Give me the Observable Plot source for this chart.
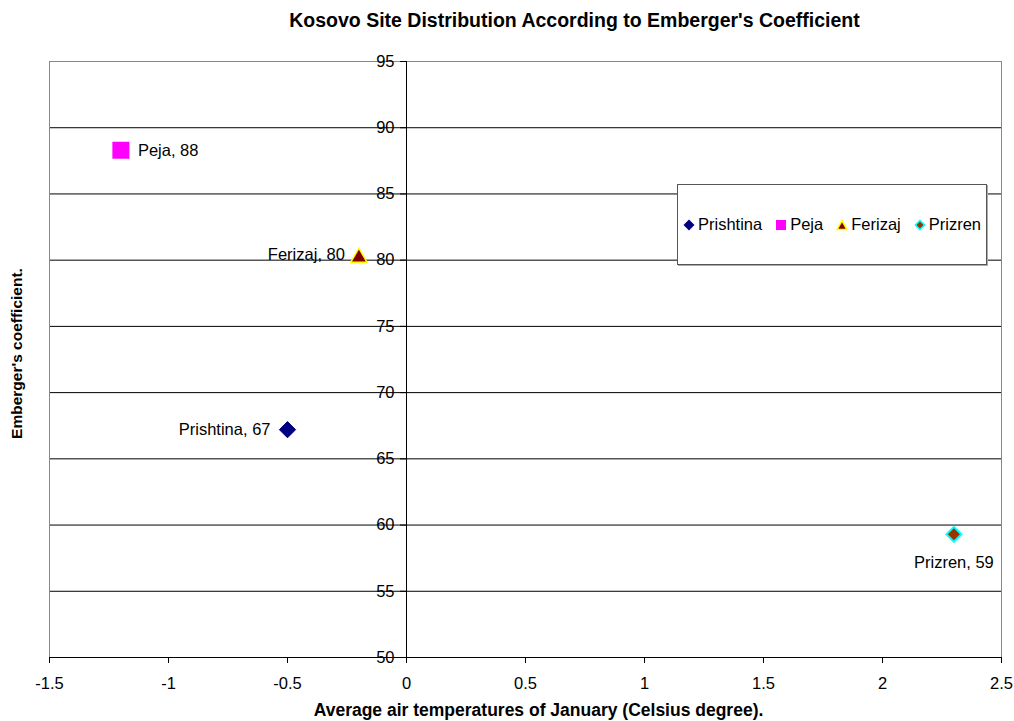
<!DOCTYPE html>
<html>
<head>
<meta charset="utf-8">
<script src="https://cdn.jsdelivr.net/npm/d3@7"></script>
<script src="https://cdn.jsdelivr.net/npm/@observablehq/plot@0.6"></script>
<style>
  body { margin: 0; background: #fff; }
  #chart { position: relative; width: 1014px; height: 721px; font-family: "Liberation Sans", Arial, sans-serif; }
  #legend {
    position: absolute; left: 677px; top: 184px; width: 310px; height: 81px;
    box-sizing: border-box; background: #fff; border: 1.5px solid #555;
    box-shadow: 1px 1px 0 #aaa;
    display: flex; align-items: center; justify-content: center;
    font-size: 16.5px; color: #000; gap: 13px;
  }
  #legend .item { display: flex; align-items: center; gap: 3px; }
  #legend svg { display: block; }
</style>
</head>
<body>
<div id="chart"></div>
<script>
// Sites and their January temperature / Emberger coefficient
const sites = ["Prishtina", "Peja", "Ferizaj", "Prizren"];
const janTemp = [-0.5, -1.2, -0.2, 2.3];
const emberger = [67.2, 88.3, 80.2, 59.3];

const xTicks = [-1.5, -1, -0.5, 0, 0.5, 1, 1.5, 2, 2.5];
const yTicks = [50, 55, 60, 65, 70, 75, 80, 85, 90, 95];

const data = sites.map((site, i) => ({site, x: janTemp[i], y: emberger[i]}));

// Marker look for each site
const markerStyle = {
  Prishtina: {symbol: "diamond2", fill: "#000080", stroke: "#000080", strokeWidth: 1, r: 7.3},
  Peja:      {symbol: "square",   fill: "#ff00ff", stroke: "#ff00ff", strokeWidth: 0.5, r: 9.3},
  Ferizaj:   {symbol: "triangle", fill: "#800000", stroke: "#ffff00", strokeWidth: 1.5, r: 6},
  Prizren:   {symbol: "diamond2", fill: "#993300", stroke: "#00ffff", strokeWidth: 2, r: 6.7}
};
// Where each point's label sits relative to its marker
const labelPlace = {
  Prishtina: {textAnchor: "end", dx: -17, dy: 0},
  Peja:      {textAnchor: "start", dx: 17, dy: 0},
  Ferizaj:   {textAnchor: "end", dx: -14, dy: -3},
  Prizren:   {textAnchor: "middle", dx: 0, dy: 28}
};

const W = 1014, H = 721;
const mL = 49, mR = 13, mT = 61, mB = 64;
const FS = 16.5;
// tick length of 6px expressed in x units
const xTickLen = 6 * (2.5 - (-1.5)) / (W - mL - mR);

const marks = [
  Plot.ruleY(yTicks.filter(d => d !== 50 && d !== 95), {stroke: "#000", strokeWidth: 1}),
  Plot.frame({stroke: "#888", strokeWidth: 1}),
  Plot.ruleY([50], {stroke: "#000", strokeWidth: 1}),
  Plot.ruleX([0], {stroke: "#000", strokeWidth: 1}),
  Plot.ruleY(yTicks, {x1: -xTickLen, x2: 0, stroke: "#000"}),
  Plot.text(yTicks, {x: 0, y: d => d, text: d => String(d), textAnchor: "end", dx: -12, fontSize: FS, fill: "#000"}),
  Plot.axisX({ticks: xTicks, tickFormat: d => String(d), tickSize: 6, tickPadding: 14, fontSize: FS, stroke: "#000", label: null, color: "#000"}),
  Plot.text(["Kosovo Site Distribution According to Emberger's Coefficient"], {
    frameAnchor: "top", textAnchor: "middle", lineAnchor: "middle", dx: 49, dy: -41,
    fontSize: 19.5, fontWeight: "bold", fill: "#000"
  }),
  Plot.text(["Average air temperatures of January (Celsius degree)."], {
    frameAnchor: "bottom", textAnchor: "middle", lineAnchor: "middle", dx: 13, dy: 53,
    fontSize: 17.5, fontWeight: "bold", fill: "#000"
  }),
  Plot.text(["Emberger's coefficient."], {
    frameAnchor: "left", textAnchor: "middle", lineAnchor: "middle", rotate: -90, dx: -32, dy: -6,
    fontSize: 15.5, fontWeight: "bold", fill: "#000"
  })
];

for (const site of sites) {
  const s = markerStyle[site];
  const rows = data.filter(d => d.site === site);
  marks.push(Plot.dot(rows, {x: "x", y: "y", ...s}));
  marks.push(Plot.text(rows, {
    x: "x", y: "y", text: d => `${d.site}, ${Math.round(d.y)}`,
    fontSize: FS, fill: "#000", lineAnchor: "middle", ...labelPlace[site]
  }));
}

const chart = Plot.plot({
  width: W, height: H,
  marginLeft: mL, marginRight: mR, marginTop: mT, marginBottom: mB,
  style: {fontFamily: "'Liberation Sans', Arial, sans-serif", background: "#fff", color: "#000"},
  x: {domain: [-1.5, 2.5]},
  y: {domain: [50, 95], axis: null},
  marks
});
document.getElementById("chart").appendChild(chart);

// Legend box listing the four sites with their markers
const legend = document.createElement("div");
legend.id = "legend";
const legendSymbol = {
  Prishtina: `<polygon points="6,0.5 11.5,6 6,11.5 0.5,6" fill="#000080"/>`,
  Peja: `<rect x="1" y="1" width="10" height="10" fill="#ff00ff"/>`,
  Ferizaj: `<polygon points="6,1.5 11,10.5 1,10.5" fill="#800000" stroke="#ffff00" stroke-width="1.6"/>`,
  Prizren: `<polygon points="6,1.5 10.5,6 6,10.5 1.5,6" fill="#993300" stroke="#00ffff" stroke-width="1.6"/>`
};
for (const site of sites) {
  const item = document.createElement("div");
  item.className = "item";
  item.innerHTML = `<svg width="12" height="12" viewBox="0 0 12 12">${legendSymbol[site]}</svg><span>${site}</span>`;
  legend.appendChild(item);
}
document.getElementById("chart").appendChild(legend);
</script>
</body>
</html>
